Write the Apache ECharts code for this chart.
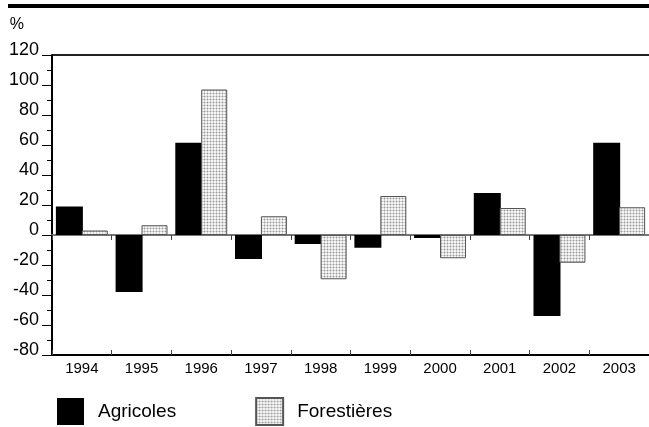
<!DOCTYPE html>
<html><head><meta charset="utf-8">
<script src="https://cdn.jsdelivr.net/npm/echarts@6/dist/echarts.min.js"></script>
<style>html,body{margin:0;padding:0;background:#fff}#c{width:649px;height:427px}</style>
</head><body><div id="c"></div>
<script>
const years = ['1994','1995','1996','1997','1998','1999','2000','2001','2002','2003'];
const agricoles = [19, -38, 61.5, -16, -6, -8.5, -2, 28, -54, 61.5];
const forestieres = [3, 6.5, 97, 12.5, -29.5, 26, -15.5, 18, -18.5, 18.5];
const seriesNames = ['Agricoles', 'Forestières'];
const yTicks = [-80, -60, -40, -20, 0, 20, 40, 60, 80, 100, 120];

// dotted grid pattern
const pc = document.createElement('canvas');
pc.width = 3; pc.height = 3;
const pctx = pc.getContext('2d');
pctx.fillStyle = '#f4f4f4'; pctx.fillRect(0,0,3,3);
pctx.fillStyle = '#d0d0d0'; pctx.fillRect(0,0,3,1); pctx.fillRect(0,0,1,3);
pctx.fillStyle = '#9a9a9a'; pctx.fillRect(0,0,1,1);
const pattern = {image: pc, repeat: 'repeat'};

const chart = echarts.init(document.getElementById('c'), null, {renderer: 'canvas'});
const font = '"Liberation Sans", Arial, sans-serif';
chart.setOption({
  animation: false,
  textStyle: {fontFamily: font},
  grid: {left: 52, top: 55, width: 605, height: 300, show: true, borderWidth: 0},
  legend: {
    left: 52, top: 392, itemWidth: 27, itemHeight: 27, itemGap: 79,
    icon: 'rect',
    data: seriesNames,
    textStyle: {fontSize: 19, color: '#000', padding: [0, 0, 0, 9], fontFamily: font},
    selectedMode: false
  },
  xAxis: [
    {type: 'category', data: years, position: 'bottom', axisLine: {onZero: false, lineStyle: {color: '#000', width: 2}},
     axisTick: {show: false}, axisLabel: {color: '#000', fontSize: 15, margin: 6, fontFamily: font}},
    {type: 'category', data: years, position: 'bottom', axisLine: {onZero: true, lineStyle: {color: '#777', width: 2}},
     axisTick: {show: true, length: 5, lineStyle: {color: '#444', width: 1}}, axisLabel: {show: false}},
    {type: 'category', data: years, position: 'bottom', axisLine: {show: false, onZero: true},
     axisTick: {show: true, inside: true, length: 5, lineStyle: {color: '#444', width: 1}}, axisLabel: {show: false}}
  ],
  yAxis: {
    type: 'value', min: -80, max: 120, interval: 20,
    axisLine: {show: true, lineStyle: {color: '#000', width: 2}},
    axisTick: {show: true, length: 10, lineStyle: {color: '#000', width: 1}},
    minorTick: {show: true, splitNumber: 2, length: 5, lineStyle: {color: '#000'}},
    axisLabel: {color: '#000', fontSize: 18, margin: 13, fontFamily: font, verticalAlign: 'bottom',
      lineHeight: 9, formatter: v => yTicks.includes(v) ? String(v) : ''},
    splitLine: {show: false},
    name: '%', nameLocation: 'end', nameGap: 22,
    nameTextStyle: {color: '#000', fontSize: 16, align: 'right', padding: [0, 28, 0, 0], fontFamily: font}
  },
  graphic: [
    {type: 'line', shape: {x1: 8, y1: 6, x2: 649, y2: 6}, style: {stroke: '#000', lineWidth: 4}},
    {type: 'line', shape: {x1: 52, y1: 55, x2: 649, y2: 55}, style: {stroke: '#222', lineWidth: 2}}
  ],
  series: [
    {name: seriesNames[0], type: 'bar', xAxisIndex: 0, data: agricoles, barWidth: 27, barGap: '-4%',
     itemStyle: {color: '#000'}},
    {name: seriesNames[1], type: 'bar', xAxisIndex: 0, data: forestieres, barWidth: 26,
     itemStyle: {color: pattern, borderColor: '#555', borderWidth: 1}}
  ]
});
</script></body></html>
